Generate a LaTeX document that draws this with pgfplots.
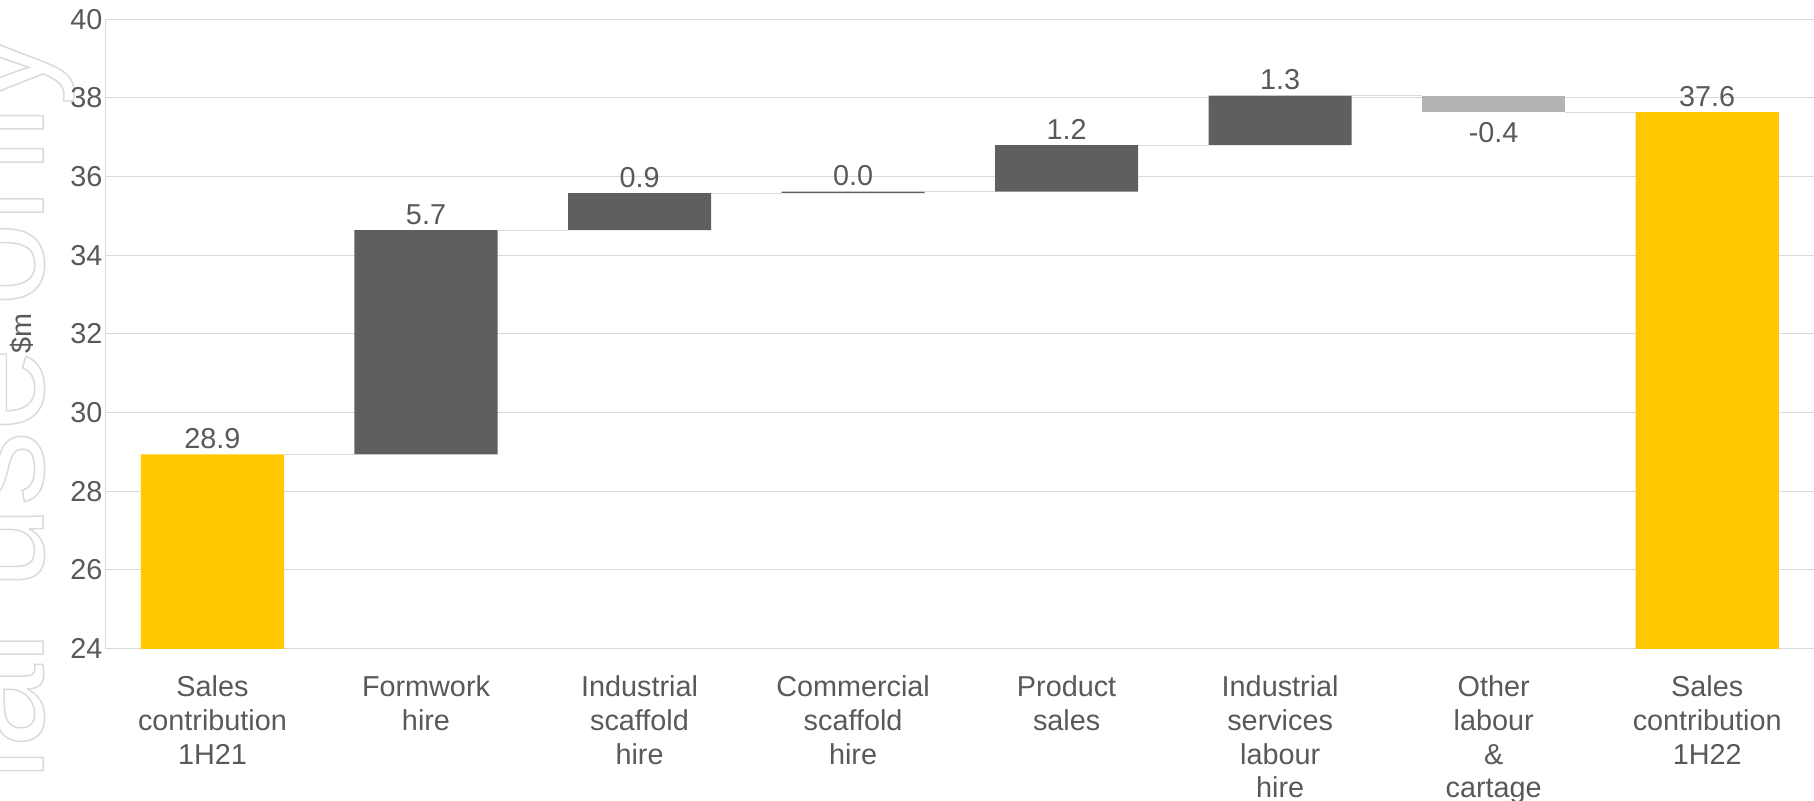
\documentclass[border=0pt]{standalone}
\usepackage{fontspec}
\setmainfont{Liberation Sans}
\usepackage{pgfplots}
\pgfplotsset{compat=1.18}
\usepackage{pgfplotstable}

\definecolor{yel}{HTML}{FFC800}
\definecolor{dk}{HTML}{5F5F5F}
\definecolor{lt}{HTML}{B3B3B3}
\definecolor{txt}{HTML}{595959}
\definecolor{gridc}{HTML}{D9D9D9}
\definecolor{wm}{HTML}{DADADA}

\newcommand\lbl{\fontsize{14.4}{16.8}\selectfont}

% Waterfall steps ($m): base = invisible offset, tot/up/down = visible heights,
% lvl = running level after the step, delta = labelled change
\pgfplotstableread{
x base  tot   up   down lvl   delta
0 0     28.94 0    0    28.94 28.94
1 28.94 0     5.70 0    34.64 5.70
2 34.64 0     0.94 0    35.58 0.94
3 35.58 0     0.04 0    35.62 0.04
4 35.62 0     1.18 0    36.80 1.18
5 36.80 0     1.26 0    38.06 1.26
6 37.64 0     0    0.42 37.64 -0.42
7 0     37.64 0    0    37.64 37.64
}\wf

\begin{document}
\begin{tikzpicture}
\useasboundingbox (-52.85pt,-76.2pt) rectangle (854.15pt,324.3pt);

% outlined watermark along the left edge
\node[rotate=90, anchor=base east, inner sep=0pt, text=wm,
      font=\fontsize{75}{80}\selectfont] at (-31.3pt,309.3pt)
  {\special{pdf:literal direct 1 Tr 0.75 w}For personal use only\special{pdf:literal direct 0 Tr}};

\begin{axis}[
  scale only axis, width=854.15pt, height=314.65pt,
  xmin=-0.5, xmax=7.5, ymin=24, ymax=40,
  ybar stacked, bar width=0.67,
  ytick={24,26,...,40},
  xtick={0,...,7},
  xticklabels={{Sales\\contribution\\1H21},{Formwork\\hire},{Industrial\\scaffold\\hire},
    {Commercial\\scaffold\\hire},{Product\\sales},{Industrial\\services\\labour\\hire},
    {Other\\labour\\\&\\cartage},{Sales\\contribution\\1H22}},
  ymajorgrids, grid style={gridc, line width=0.5pt},
  axis x line*=bottom, axis y line*=left,
  axis line style={gridc, line width=0.5pt, -},
  major tick length=0pt, tick style={draw=none},
  ticklabel style={font=\lbl, text=txt},
  xticklabel style={align=center, anchor=north, inner sep=0pt, yshift=-13.5pt},
  yticklabel style={anchor=east, inner sep=0pt, xshift=-1.4pt},
  ylabel={\$m},
  every axis y label/.style={at={(axis description cs:-0.049,0.5)}, rotate=90,
    anchor=center, font=\lbl, text=txt},
  /pgf/number format/assume math mode=true,
]
\addplot[draw=none, fill=none] table[x=x, y=base] {\wf};
\addplot[draw=none, fill=yel] table[x=x, y=tot] {\wf};
\addplot[draw=none, fill=dk] table[x=x, y=up] {\wf};
\addplot[draw=none, fill=lt] table[x=x, y=down] {\wf};
\end{axis}

\begin{axis}[
  scale only axis, width=854.15pt, height=314.65pt,
  xmin=-0.5, xmax=7.5, ymin=24, ymax=40,
  hide axis, clip=false,
  /pgf/number format/assume math mode=true,
  /pgf/number format/.cd, fixed, fixed zerofill, precision=1,
]
% connectors between neighbouring bars
\addplot[gridc, line width=0.6pt, unbounded coords=jump] coordinates {
  (0.335,28.94) (0.665,28.94) (1,nan)
  (1.335,34.64) (1.665,34.64) (2,nan)
  (2.335,35.58) (2.665,35.58) (3,nan)
  (3.335,35.62) (3.665,35.62) (4,nan)
  (4.335,36.80) (4.665,36.80) (5,nan)
  (5.335,38.06) (5.665,38.06) (6,nan)
  (6.335,37.64) (6.665,37.64)
};
% value labels
\addplot[draw=none, nodes near coords, point meta=explicit,
  skip coords between index={6}{7},
  every node near coord/.style={anchor=south, inner xsep=0pt, inner ysep=2.6pt, font=\lbl, text=txt}]
  table[x=x, y=lvl, meta=delta] {\wf};
\addplot[draw=none, nodes near coords, point meta=explicit,
  skip coords between index={0}{6}, skip coords between index={7}{8},
  every node near coord/.style={anchor=north, inner xsep=0pt, inner ysep=5pt, font=\lbl, text=txt}]
  table[x=x, y=lvl, meta=delta] {\wf};
\end{axis}
\end{tikzpicture}
\end{document}
